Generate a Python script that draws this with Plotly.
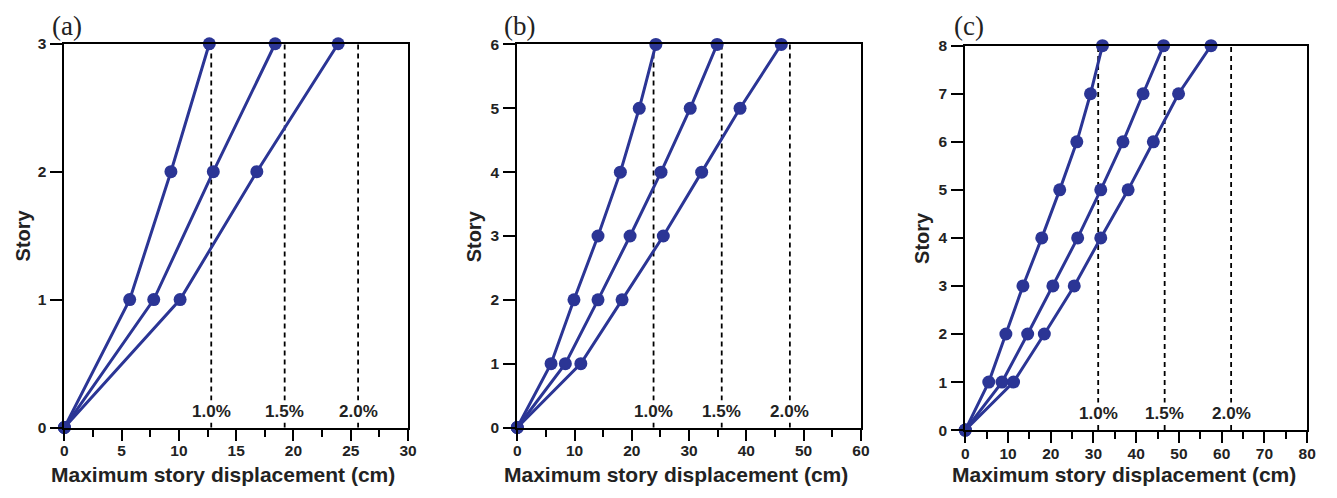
import plotly.graph_objects as go

W, H = 1337, 498

# ---------------- data ----------------
stories_a = [0, 1, 2, 3]
a_s1 = [0, 5.7, 9.3, 12.65]
a_s2 = [0, 7.8, 13.0, 18.4]
a_s3 = [0, 10.1, 16.8, 23.9]
a_limits = [12.82, 19.23, 25.64]

stories_b = [0, 1, 2, 3, 4, 5, 6]
b_s1 = [0, 5.9, 9.9, 14.1, 18.0, 21.3, 24.2]
b_s2 = [0, 8.4, 14.1, 19.7, 25.1, 30.2, 34.9]
b_s3 = [0, 11.1, 18.3, 25.5, 32.2, 38.9, 46.1]
b_limits = [23.8, 35.7, 47.6]

stories_c = [0, 1, 2, 3, 4, 5, 6, 7, 8]
c_s1 = [0, 5.5, 9.5, 13.5, 17.9, 22.1, 26.1, 29.3, 32.1]
c_s2 = [0, 8.6, 14.6, 20.5, 26.3, 31.7, 36.9, 41.6, 46.4]
c_s3 = [0, 11.3, 18.5, 25.5, 31.7, 38.1, 44.0, 49.9, 57.5]
c_limits = [31.1, 46.65, 62.2]

limit_labels = ["1.0%", "1.5%", "2.0%"]
panel_labels = ["(a)", "(b)", "(c)"]
x_title = "Maximum story displacement (cm)"
y_title = "Story"

# ---------------- style ----------------
BLUE = "#2B3595"
TXT = "#222222"
SANS = "Liberation Sans, Arial, sans-serif"
SERIF = "Liberation Serif, Times New Roman, serif"

# panel pixel geometry: (x0, x1, ytop, ybottom)
geo = [(61, 408, 36, 433.3), (518.3, 865.3, 36.7, 433.3), (970.7, 1316, 38, 436)]
xranges = [30, 60, 80]
xdticks = [(5, 2.5), (10, 5), (10, 5)]
ymax = [3, 6, 8]
panels = [
    (stories_a, [a_s1, a_s2, a_s3], a_limits),
    (stories_b, [b_s1, b_s2, b_s3], b_limits),
    (stories_c, [c_s1, c_s2, c_s3], c_limits),
]
ytitle_x = [19, 475, 927]
xtitle_cx = [221.5, 679, 1131.5]
plabel_cx = [64, 520.5, 974]

fig = go.Figure()
layout = dict(
    width=W, height=H,
    margin=dict(l=0, r=0, t=0, b=0),
    paper_bgcolor="white", plot_bgcolor="white",
    showlegend=False,
)
shapes = []
annotations = []

for i, (stories, series, limits) in enumerate(panels):
    n = "" if i == 0 else str(i + 1)
    xa, ya = "x" + n, "y" + n
    x0, x1, yt, yb = geo[i]
    for s in series:
        fig.add_trace(go.Scatter(
            x=s, y=stories, xaxis=xa, yaxis=ya, mode="lines+markers",
            line=dict(color=BLUE, width=3),
            marker=dict(color=BLUE, size=13),
            cliponaxis=False, hoverinfo="skip",
        ))
    dt, mdt = xdticks[i]
    layout["xaxis" + n] = dict(
        domain=[x0 / W, x1 / W], anchor=ya, range=[0, xranges[i]],
        showline=True, linecolor="black", linewidth=2, mirror=True,
        ticks="outside", ticklen=11, tickwidth=2, tickcolor="black",
        dtick=dt, tick0=0, showgrid=False, zeroline=False,
        ticklabelstandoff=-3,
        tickfont=dict(family=SANS, size=15.5, color=TXT, weight="bold"),
        minor=dict(ticks="outside", ticklen=7, tickwidth=2, tickcolor="black",
                   dtick=mdt, tick0=0, showgrid=False),
    )
    layout["yaxis" + n] = dict(
        domain=[(H - yb) / H, (H - yt) / H], anchor=xa, range=[0, ymax[i]],
        showline=True, linecolor="black", linewidth=2, mirror=True,
        ticks="outside", ticklen=12, tickwidth=2, tickcolor="black",
        dtick=1, tick0=0, showgrid=False, zeroline=False,
        ticklabelstandoff=1,
        tickfont=dict(family=SANS, size=15.5, color=TXT, weight="bold"),
    )
    for lim, lab in zip(limits, limit_labels):
        shapes.append(dict(
            type="line", xref=xa, yref=ya + " domain", x0=lim, x1=lim, y0=0, y1=1,
            line=dict(color="black", width=1.8, dash="5px,4px"), layer="below",
        ))
        annotations.append(dict(
            text=lab, xref=xa, yref=ya + " domain", x=lim, y=17 / (yb - yt),
            showarrow=False, xanchor="center", yanchor="middle",
            font=dict(family=SANS, size=17, color=TXT, weight="bold"),
            bgcolor="white", borderpad=1,
        ))
    annotations.append(dict(
        text=x_title, xref="paper", yref="paper", x=xtitle_cx[i] / W, y=(H - 482) / H,
        showarrow=False, xanchor="center", yanchor="middle",
        font=dict(family=SANS, size=21, color=TXT, weight="bold"),
    ))
    annotations.append(dict(
        text=y_title, xref="paper", yref="paper", x=ytitle_x[i] / W,
        y=(H - (yt + yb) / 2) / H, textangle=-90,
        showarrow=False, xanchor="center", yanchor="middle",
        font=dict(family=SANS, size=20, color=TXT, weight="bold"),
    ))
    annotations.append(dict(
        text=panel_labels[i], xref="paper", yref="paper", x=plabel_cx[i] / W,
        y=(H - 18) / H, showarrow=False, xanchor="center", yanchor="middle",
        font=dict(family=SERIF, size=27, color=TXT),
    ))

layout["shapes"] = shapes
layout["annotations"] = annotations
fig.update_layout(**layout)
fig.write_html("out.html")
